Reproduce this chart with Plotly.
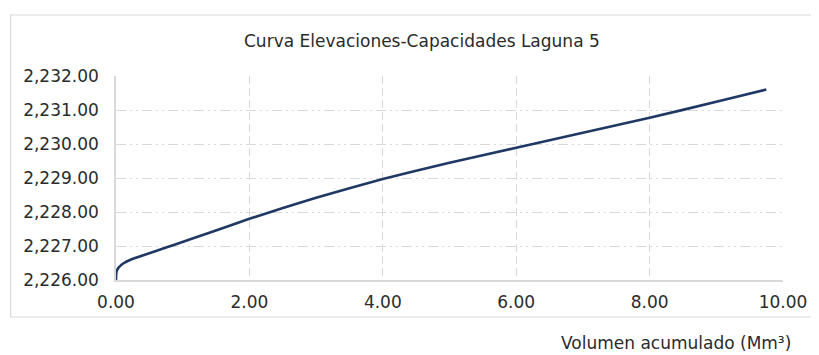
import plotly.graph_objects as go

volumen = [0.0, 0.002, 0.01, 0.03, 0.06, 0.12, 0.21, 0.41, 0.61, 0.91, 1.4, 2.0, 3.0, 4.0, 5.0, 6.0, 7.0, 8.0, 9.0, 9.75]
elevacion = [2226.00, 2226.15, 2226.26, 2226.34, 2226.41, 2226.50, 2226.59, 2226.73, 2226.86, 2227.06,
             2227.39, 2227.80, 2228.42, 2228.97, 2229.45, 2229.89, 2230.33, 2230.77, 2231.24, 2231.60]

title_text = "Curva Elevaciones-Capacidades Laguna 5"
x_title = "Volumen acumulado (Mm³)"

FONT = "DejaVu Sans, Arial, sans-serif"
GRID = "#d9d9d9"
TXT = "#2b2b2b"

fig = go.Figure()
fig.add_trace(go.Scatter(x=volumen, y=elevacion, mode="lines",
                         line=dict(color="#1f3864", width=2.6, shape="spline", smoothing=0.4),
                         hoverinfo="x+y", showlegend=False))

# page body has an 8px margin; figure sits at (8, 8)
OFF = 8
W, H = 819 - OFF, 355 - OFF
L, R, T, B = 116 - OFF, 32, 76 - OFF, 83 - OFF
pw = W - L - R
ph = H - T - B

def px_x(p):
    return (p - OFF - L) / pw

def px_y(p):
    return (H - B - (p - OFF)) / ph

fig.update_layout(
    width=W, height=H,
    margin=dict(l=L, r=R, t=T, b=B),
    paper_bgcolor="white", plot_bgcolor="white",
    font=dict(family=FONT, color=TXT),
    xaxis=dict(range=[0, 10], dtick=2, tick0=0, tickformat=",.2f",
               showgrid=True, gridcolor=GRID, griddash="8px,4px", gridwidth=1.3,
               showline=True, linecolor=GRID, linewidth=1.5,
               ticks="", zeroline=False, ticklabelstandoff=6,
               tickfont=dict(family=FONT, size=17, color=TXT)),
    yaxis=dict(range=[2226, 2232], dtick=1, tick0=2226, tickformat=",.2f",
               showgrid=True, gridcolor=GRID, griddash="10px,4px,2px,4px,2px,4px", gridwidth=1.3,
               showline=True, linecolor=GRID, linewidth=1.5,
               ticks="", zeroline=False, ticklabelstandoff=12,
               tickfont=dict(family=FONT, size=17, color=TXT)),
    shapes=[dict(type="rect", xref="paper", yref="paper",
                 x0=px_x(10), x1=px_x(860), y0=px_y(317), y1=px_y(15),
                 line=dict(color="#d9d9d9", width=1.2), fillcolor="rgba(0,0,0,0)", layer="below")],
    annotations=[
        dict(text=title_text, xref="paper", yref="paper", x=px_x(424), y=px_y(41),
             xanchor="center", yanchor="middle", showarrow=False,
             font=dict(family=FONT, size=17, color=TXT)),
        dict(text=x_title, xref="paper", yref="paper", x=px_x(797), y=px_y(343),
             xanchor="right", yanchor="middle", showarrow=False,
             font=dict(family=FONT, size=17, color=TXT)),
    ],
)

fig.write_html("out.html")
